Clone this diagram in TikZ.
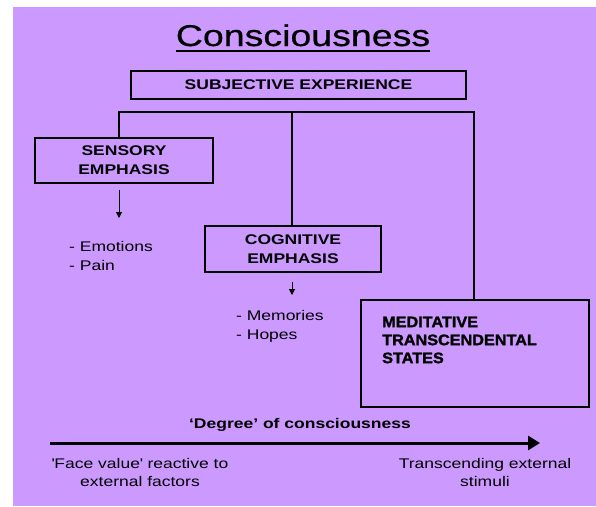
\documentclass[tikz,border=0pt]{standalone}
\usepackage{fontspec}
\setmainfont{Liberation Sans}[FakeStretch=1.25]
\newfontfamily\heavyfont{Liberation Sans Bold}[FakeStretch=1.06, FakeBold=1.6]
\newfontfamily\titlefont{Liberation Sans}[FakeStretch=1.25, FakeBold=0.6]
\usetikzlibrary{arrows.meta}
\definecolor{bgpurple}{RGB}{204,153,255}
\tikzset{
  box/.style={draw=black, line width=1.3pt, inner sep=0pt, align=center,
    font=\fontsize{14}{19}\selectfont\bfseries},
  conn/.style={draw=black, line width=2.2pt},
  small/.style={draw=black, line width=1pt, -{Triangle[length=6pt,width=6pt]}},
  lst/.style={inner sep=0pt, align=left, font=\fontsize{14}{19}\selectfont},
  lbl/.style={inner sep=0pt, align=center, font=\fontsize{14}{18}\selectfont},
}
\begin{document}
\begin{tikzpicture}[x=1pt,y=-1pt]
\useasboundingbox (0,0) rectangle (596,506);
\fill[white] (0,0) rectangle (596,506);
\fill[bgpurple] (13,7) rectangle (596,506);

% title
\node[inner sep=0pt, anchor=base, font=\fontsize{30}{30}\titlefont] (title) at (303,46) {Consciousness};
\draw[line width=2pt] ([yshift=-5pt]title.base west) -- ([yshift=-5pt]title.base east);

% boxes
\node[box, minimum width=335pt, minimum height=28pt] (subj) at (298.5,85) {SUBJECTIVE EXPERIENCE};
\node[box, minimum width=178pt, minimum height=45pt] (sens) at (124,160.5) {SENSORY\\EMPHASIS};
\node[box, minimum width=176pt, minimum height=46pt] (cog) at (293,249) {COGNITIVE\\EMPHASIS};
\node[box, minimum width=228pt, minimum height=107pt] (med) at (475,353.5) {};
\node[inner sep=0pt, anchor=west, align=left, font=\fontsize{15.3}{18}\heavyfont] (medtext) at (382,340) {MEDITATIVE\\TRANSCENDENTAL\\STATES};

% tree connectors
\coordinate (jl) at (119,112);
\coordinate (jm) at (292,112);
\coordinate (jr) at (474,112);
\draw[conn] (sens.north -| jl) -- (jl) -- (jr) -- (med.north -| jr);
\draw[conn] (jm) -- (cog.north -| jm);

% lists and small arrows
\node[lst, anchor=west] (emo) at (69,256) {- Emotions\\- Pain};
\node[lst, anchor=west] (mem) at (236,326) {- Memories\\- Hopes};
\coordinate (sa) at (119,190);
\coordinate (sb) at (119,218);
\draw[small] (sa) -- (sb);
\coordinate (ca) at (292,282);
\coordinate (cb) at (292,295);
\draw[small] (ca) -- (cb);

% axis
\node[lbl, font=\fontsize{14}{18}\selectfont\bfseries] (deg) at (300,425) {‘Degree’ of consciousness};
\coordinate (axl) at (50,443);
\coordinate (axr) at (540,443);
\draw[line width=3pt, -{Triangle[length=12pt,width=14pt]}] (axl) -- (axr);
\node[lbl] (face) at (140,472) {\textquotesingle Face value\textquotesingle{} reactive to\\external factors};
\node[lbl] (trans) at (485,472) {Transcending external\\stimuli};
\end{tikzpicture}
\end{document}
